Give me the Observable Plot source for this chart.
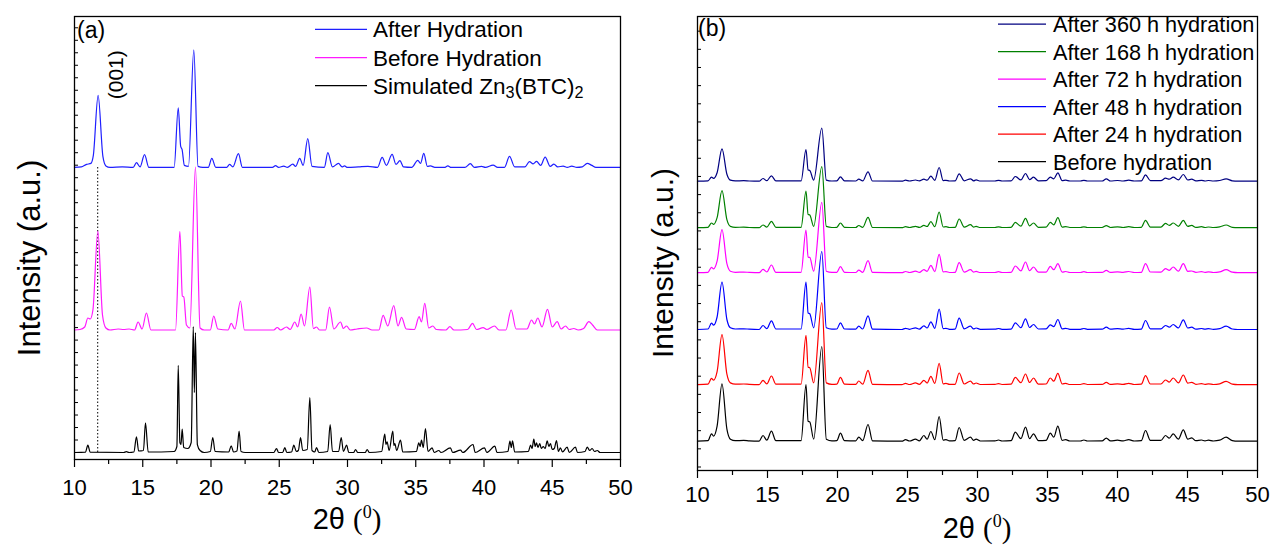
<!DOCTYPE html>
<html><head><meta charset="utf-8">
<script src="https://cdn.jsdelivr.net/npm/d3@7"></script>
<script src="https://cdn.jsdelivr.net/npm/@observablehq/plot@0.6"></script>
<style>
body{margin:0;background:#fff;}
#wrap{position:relative;width:1274px;height:548px;display:flex;}
#wrap svg{display:block;overflow:visible;}
</style></head><body><div id="wrap"></div>
<script>
// ---------- Panel (a): [2theta, intensity above its own baseline] ----------
const afterHydrationA = [[10,0],[10.5,0.5],[10.88,3],[11.2,4],[11.38,12],[11.73,72],[12.08,11],[12.3,1.5],[12.6,0],[13.5,0.5],[14.3,0],[14.54,4.7],[14.8,0.5],[15.13,12.7],[15.45,0],[17.3,0],[17.6,59.7],[17.78,21],[17.88,18],[18.05,2],[18.35,1],[18.74,117.7],[19.05,1],[19.4,0],[19.8,0],[20.06,9],[20.35,0],[21.15,0],[21.36,3],[21.6,0.5],[22.01,13.7],[22.3,0],[24.5,0],[24.73,1.7],[24.95,0],[25.33,1.2],[25.6,0],[25.99,3.3],[26.2,1],[26.5,9],[26.75,2],[27.09,28.7],[27.4,1],[28.3,0],[28.56,14.7],[28.9,0.5],[29.34,4],[29.6,0.5],[29.78,1.5],[30.0,0],[30.8,0.5],[31.5,1],[32.2,0],[32.54,10],[32.85,2],[33.27,13],[33.55,3],[33.84,6.7],[34.1,0.5],[34.7,0],[35.15,7],[35.35,4],[35.59,14],[35.85,1],[36.08,1.5],[36.4,0],[37.1,0],[37.35,1.5],[37.6,0],[38.6,0],[39.0,3.7],[39.3,0],[39.82,1],[40.1,0],[40.67,2.3],[41.0,0],[41.5,0],[41.87,11],[42.25,0.5],[43.0,0.5],[43.33,5.7],[43.6,3.5],[43.85,6],[44.15,2],[44.48,10.3],[44.85,1],[45.12,3.3],[45.4,0.5],[45.8,1.3],[46.1,0],[46.43,1.2],[46.8,0],[47.2,0.5],[47.56,4],[47.9,2],[48.2,0],[50,0]];

const beforeHydrationA = [[10,0],[10.4,0.5],[10.75,3],[10.98,12],[11.15,11],[11.35,20],[11.71,99],[12.05,15],[12.3,2],[12.6,0],[13.2,1],[13.6,0.5],[14.0,1],[14.4,0],[14.66,8],[14.95,1],[15.27,17],[15.6,0],[17.4,0],[17.72,98.7],[17.9,34],[18.01,33],[18.2,5],[18.45,2],[18.86,163],[19.2,2],[19.5,0],[19.95,0],[20.2,14],[20.5,1],[21.25,0],[21.48,6.7],[21.75,1],[22.16,29],[22.45,0],[24.6,0],[24.85,2.5],[25.1,0],[25.53,3],[25.8,0.5],[26.14,8],[26.35,3],[26.6,16],[26.85,4],[27.24,43],[27.5,1.5],[27.73,3],[27.95,0],[28.4,0],[28.68,23],[29.0,1],[29.49,8],[29.7,1.5],[29.93,4],[30.2,0],[30.7,1],[31.4,2],[31.8,0],[32.3,0],[32.61,14.7],[32.95,4],[33.39,24.3],[33.7,4],[33.96,12.7],[34.3,1],[34.9,0.5],[35.25,13.3],[35.42,8],[35.66,26.7],[35.95,2],[36.25,4],[36.5,0.5],[37.2,0],[37.5,3.3],[37.8,0],[38.8,0.5],[39.16,6.7],[39.45,0.5],[39.94,2.3],[40.2,0.5],[40.77,4],[41.1,0],[41.6,0],[41.99,20],[42.35,1],[43.15,1],[43.48,10],[43.7,6],[43.94,12],[44.25,3],[44.65,20.7],[45.0,3],[45.36,8.3],[45.65,1],[45.97,4],[46.25,0.5],[46.58,1.5],[46.9,0],[47.3,1.5],[47.68,8.3],[47.95,5],[48.3,0],[50,0]];

const simulatedA = [[10,0],[10.8,0.3],[10.98,7.3],[11.15,0.3],[13.6,0],[13.8,0.8],[14.0,0],[14.35,0.5],[14.54,15.7],[14.7,1.5],[15.05,2],[15.2,29.7],[15.4,0.5],[17.3,1],[17.5,6],[17.6,87.3],[17.72,10],[17.8,8],[17.89,23.3],[18.0,5],[18.3,4],[18.55,10],[18.7,126],[18.78,60],[18.86,120],[19.0,8],[19.2,2],[19.5,0],[19.95,1],[20.13,15],[20.3,1],[21.3,0.5],[21.48,6.7],[21.65,0.5],[21.9,1.5],[22.06,21.3],[22.2,1],[22.5,0],[24.6,0],[24.8,4],[24.95,0],[25.25,0],[25.41,5],[25.55,0],[25.9,0.5],[26.07,7.3],[26.25,1],[26.4,2],[26.56,15],[26.72,2],[27.05,3],[27.24,55],[27.4,2],[27.6,0.5],[27.73,5],[27.9,0],[28.55,1],[28.73,28],[28.9,1],[29.35,1],[29.54,15],[29.7,1],[29.93,7.3],[30.1,0],[30.45,0],[30.59,3],[30.75,0],[31.3,0],[31.44,3],[31.6,0],[32.5,1],[32.73,18.3],[32.82,8],[32.9,10.7],[33.05,2],[33.32,21.3],[33.4,7],[33.47,9],[33.6,2],[33.88,12.3],[34.05,0.5],[35.05,1],[35.22,9.7],[35.32,6],[35.42,12.3],[35.55,5],[35.71,24],[35.9,1],[36.2,4.7],[36.35,0],[36.69,2],[36.85,0],[37.54,4.7],[37.7,0],[38.28,2.3],[38.45,0],[39.2,8],[39.35,0],[40.04,4.7],[40.2,0],[40.8,6.3],[40.95,0],[41.75,1],[41.9,11.3],[42.0,5],[42.09,11.7],[42.25,0.5],[43.25,1],[43.41,7.3],[43.52,4],[43.65,13.3],[43.75,6],[43.85,9.7],[43.95,5],[44.09,9],[44.2,4],[44.34,6],[44.48,4],[44.63,11.7],[44.75,6],[44.87,9],[45.0,3],[45.15,4],[45.31,12],[45.45,1],[45.6,4.7],[45.75,0.5],[46.09,5.3],[46.25,0],[46.7,5.3],[46.85,0],[47.4,1],[47.56,5.3],[47.75,2],[47.92,4],[48.1,1],[48.3,2],[48.5,0],[50,0]];

const seriesNamesA = ["After Hydration", "Before Hydration", "Simulated Zn3(BTC)2"];
const seriesColorsA = ["#1f1fff", "#ff1aff", "#000000"];
const baselinesA = [292.3, 129.6, 7];
const peak001 = 11.7;

// ---------- Panel (b): shared 2theta grid, intensities above each baseline ----------
const xB = [10,10.75,11.0,11.15,11.4,11.75,12.1,12.35,12.7,13.3,13.7,14.4,14.68,14.95,15.28,15.6,
  17.4,17.75,17.9,18.02,18.3,18.88,19.2,19.6,19.95,20.21,20.5,21.3,21.52,21.8,22.18,22.5,
  24.6,24.86,25.15,25.57,25.85,26.17,26.4,26.67,26.95,27.26,27.55,27.75,28.0,28.4,28.69,29.05,29.5,29.72,29.9,30.2,31.25,31.5,31.75,
  32.4,32.7,33.1,33.43,33.72,34.0,34.35,34.9,35.2,35.45,35.74,36.05,36.3,36.6,37.35,37.6,37.85,
  38.9,39.2,39.5,40.0,40.4,40.8,41.2,41.7,42.0,42.35,43.1,43.43,43.7,43.98,44.35,44.7,45.02,45.3,45.6,46.0,46.25,46.5,46.85,47.3,47.76,48.2,48.6,50];
const beforeB = [0,0.5,7.3,5,15,57.3,12,2,0.5,0.8,0.3,0,5.7,1,10,0.5,
  0.5,56.7,20,19.3,2,94.7,2,0.3,0.5,8,0.5,0.3,4,0.6,16.7,0.3,
  0,1.5,0.2,2,0.4,5.7,2,9.7,1.5,24.7,1,1.5,0.3,0.5,13.7,0.8,4,0.8,2,0.2,0.3,1.2,0.2,
  0.5,9,2.5,14,2.5,7.3,0.6,0.8,8,4,15,0.8,1.5,0.2,0.2,1.2,0.2,
  0.3,3,0.3,1,0.3,1.5,0.2,0.5,10.7,0.8,0.8,5.7,3,7.3,2,11.3,2,3.3,0.5,1.2,0.3,1,0.2,1,4,0.6,0,0];
const h24B = [0,0.5,6.3,4.5,13,50,10.5,1.8,0.5,0.7,0.3,0,4.3,0.8,8.7,0.5,
  0.5,49.3,17.5,17,1.8,82,1.8,0.3,0.5,7.3,0.5,0.3,3.7,0.5,14.3,0.3,
  0,1.3,0.2,1.8,0.4,4.3,1.7,8.3,1.3,21.3,0.9,1.3,0.3,0.4,11.7,0.7,3.5,0.7,1.7,0.2,0.3,1.1,0.2,
  0.5,7.3,2,10.7,2.2,6.7,0.5,0.7,6.7,3.5,11.3,0.7,1.3,0.2,0.2,1.1,0.2,
  0.3,2.3,0.3,0.9,0.3,1.3,0.2,0.5,9,0.7,0.7,4.7,2.6,6.7,1.8,9.7,1.6,2.3,0.4,1,0.3,0.8,0.2,0.9,3.3,0.5,0,0];
const h48B = [0,0.5,6.3,4.3,12.5,47.3,10,1.7,0.5,0.7,0.3,0,4,0.8,8.7,0.5,
  0.5,47.3,16.5,15.7,1.7,78,1.7,0.3,0.5,6.7,0.5,0.3,3.3,0.5,13.7,0.3,
  0,1.2,0.2,1.7,0.3,3.7,1.5,7.7,1.2,20.3,0.8,1.2,0.2,0.4,11.3,0.6,3.3,0.6,1.5,0.2,0.3,1,0.2,
  0.4,6.7,1.8,10.7,2,5,0.5,0.6,4.7,2.8,10,0.6,1.2,0.2,0.2,1,0.2,
  0.3,2.3,0.3,0.9,0.3,1.2,0.2,0.4,9,0.7,0.6,4,2.3,5,1.6,9.7,1.5,2.3,0.4,1,0.3,0.8,0.2,0.9,3.3,0.5,0,0];
const h72B = [0,0.4,5.3,3.8,11.5,43,9,1.5,0.4,0.6,0.3,0,3.3,0.7,7.7,0.4,
  0.4,42.7,15.5,15.3,1.5,70.3,1.5,0.3,0.4,6,0.4,0.2,2.5,0.4,12,0.3,
  0,1.2,0.2,1.5,0.3,3,1.4,7.3,1.1,18.3,0.8,1.1,0.2,0.4,10,0.6,3,0.6,1.3,0.2,0.2,1,0.2,
  0.4,6.7,1.8,10.7,2,5.7,0.5,0.6,6.3,3,9,0.6,1.2,0.2,0.2,1,0.2,
  0.3,2.3,0.3,0.8,0.3,1.2,0.2,0.4,9,0.7,0.6,4,2.3,5.7,1.6,9,1.4,1.7,0.4,1,0.3,0.8,0.2,0.8,3,0.5,0,0];
const h168B = [0,0.4,4.7,3.3,10,37,8,1.3,0.4,0.5,0.2,0,2.7,0.6,6.3,0.4,
  0.4,36.7,13.3,12.7,1.3,61,1.3,0.2,0.4,4.7,0.4,0.2,2.2,0.4,10.3,0.2,
  0,1,0.2,1.3,0.3,2.3,1.2,6,1,15.7,0.7,1,0.2,0.3,8.7,0.5,3,0.5,1.3,0.2,0.2,0.9,0.2,
  0.4,5.3,1.5,9.3,1.8,4.7,0.4,0.5,5.3,2.8,10,0.5,1.1,0.2,0.2,0.9,0.2,
  0.2,2,0.2,0.8,0.2,1,0.2,0.4,7.3,0.6,0.6,4.3,2.3,4.7,1.4,7.3,1.3,2.3,0.3,1,0.2,0.7,0.2,0.8,2.7,0.4,0,0];
const h360B = [0,0.3,4,2.8,8.5,32.4,7,1.1,0.3,0.5,0.2,0,2.7,0.5,5.4,0.3,
  0.3,31.7,11.3,10.7,1.1,53,1.1,0.2,0.3,4.4,0.3,0.2,2,0.3,9.4,0.2,
  0,1,0.2,1.2,0.3,2,1,5,0.9,13.7,0.6,0.9,0.2,0.3,7.4,0.4,2.4,0.4,1.3,0.2,0.2,0.8,0.2,
  0.3,4.7,1.3,7.7,1.5,4,0.4,0.5,4,2.4,8.3,0.5,1,0.2,0.2,0.8,0.2,
  0.2,2.3,0.2,0.7,0.2,1,0.2,0.3,6.3,0.5,0.5,3,2,4,1.3,6.7,1.2,2,0.3,0.8,0.2,0.7,0.2,0.7,2.3,0.4,0,0];

const seriesNamesB = ["After 360 h hydration","After 168 h hydration","After 72 h hydration","After 48 h hydration","After 24 h hydration","Before hydration"];
const seriesB = [h360B, h168B, h72B, h48B, h24B, beforeB];
const seriesColorsB = ["#000080","#008000","#ff00ff","#0000ff","#ff0000","#000000"];
const baselinesB = [289.3, 242.8, 197.8, 141, 85.8, 29.3];

const majorTicks = [10,15,20,25,30,35,40,45,50];
const minorTicks = [12.5,17.5,22.5,27.5,32.5,37.5,42.5,47.5];
const yTicksA = d3.range(7, 440, 12.5);
const yTicksB = d3.range(3.5, 450, 18.16);

// ---------- drawing ----------
const FONT = '"Liberation Sans", Arial, Helvetica, sans-serif';
const wrap = document.getElementById("wrap");

function lineMarks(traces) {
  return traces.map(t => Plot.line(t.rows, {x: "x", y: "y", stroke: t.color, strokeWidth: 1.2, curve: "monotone-x"}));
}

function axes(plotW, ticksY, pad) {
  return [
    Plot.tickY(ticksY, {y: d => d, stroke: "#000", strokeWidth: 1, insetRight: plotW - 4}),
    Plot.axisX(majorTicks, {tickSize: 8, tickPadding: pad, fontSize: 22, label: null, tickFormat: d => String(d), strokeWidth: 1.2}),
    Plot.axisX(minorTicks, {tickSize: 5, tickFormat: () => "", label: null, strokeWidth: 1.2}),
    Plot.axisY([], {label: null}),
    Plot.frame({stroke: "#000", strokeWidth: 1.3})
  ];
}

// Panel (a)
const rowsA = [afterHydrationA, beforeHydrationA, simulatedA].map((pts, i) => ({
  color: seriesColorsA[i], rows: pts.map(([x, h]) => ({x, y: baselinesA[i] + h}))
}));
const wA = 640, mLA = 74, mRA = 20;
const svgA = Plot.plot({
  width: wA, height: 548, marginLeft: mLA, marginRight: mRA, marginTop: 16, marginBottom: 89,
  x: {domain: [10, 50]}, y: {domain: [0, 443.3]},
  style: {fontFamily: FONT, fontSize: "22px", color: "#000", background: "transparent"},
  marks: [
    Plot.ruleX([peak001], {y1: baselinesA[2], y2: baselinesA[0], stroke: "#000", strokeDasharray: "1.5,2", strokeWidth: 1}),
    ...lineMarks(rowsA),
    ...axes(wA - mLA - mRA, yTicksA, 12),
    Plot.text(["(001)"], {x: 13.08, y: 385, rotate: -90, fontSize: 21, fill: "#000"})
  ]});
wrap.appendChild(svgA);

// Panel (b)
const rowsB = seriesB.map((vals, i) => ({
  color: seriesColorsB[i], rows: vals.map((h, j) => ({x: xB[j], y: baselinesB[i] + h}))
}));
const wB = 634, mLB = 57, mRB = 17;
const svgB = Plot.plot({
  width: wB, height: 548, marginLeft: mLB, marginRight: mRB, marginTop: 16, marginBottom: 78,
  x: {domain: [10, 50]}, y: {domain: [0, 454]},
  style: {fontFamily: FONT, fontSize: "22px", color: "#000", background: "transparent"},
  marks: [...lineMarks(rowsB), ...axes(wB - mLB - mRB, yTicksB, 8)]});
wrap.appendChild(svgB);

// ---------- annotations: legends, titles ----------
function addText(svg, x, y, parts, opts = {}) {
  const size = opts.size || 22;
  const t = d3.select(svg).append("text").attr("x", x).attr("y", y)
    .attr("font-family", opts.family || FONT).attr("font-size", size).attr("fill", "#000")
    .attr("text-anchor", opts.anchor || "start");
  if (opts.rotate) t.attr("transform", `rotate(${opts.rotate},${x},${y})`);
  parts.forEach(p => {
    const s = t.append("tspan").text(p.t);
    if (p.sub) s.attr("font-size", size * 0.72).attr("baseline-shift", "-28%");
    if (p.sup) s.attr("font-size", size * 0.62).attr("baseline-shift", "60%");
    if (p.family) s.attr("font-family", p.family);
  });
  return t;
}
function legend(svg, x1, x2, xt, ys, names, colors, size) {
  names.forEach((n, i) => {
    d3.select(svg).append("line").attr("x1", x1).attr("x2", x2).attr("y1", ys[i]).attr("y2", ys[i])
      .attr("stroke", colors[i]).attr("stroke-width", 1.2);
    const parts = n === "Simulated Zn3(BTC)2"
      ? [{t: "Simulated Zn"}, {t: "3", sub: true}, {t: "(BTC)"}, {t: "2", sub: true}]
      : [{t: n}];
    addText(svg, xt, ys[i] + size * 0.36, parts, {size});
  });
}
legend(svgA, 315, 367, 373, [29.3, 57.7, 85.7], seriesNamesA, seriesColorsA, 22.5);
legend(svgB, 358, 406, 413, [24.2, 51.7, 79.2, 106.7, 134.2, 161.7], seriesNamesB, seriesColorsB, 21.7);

addText(svgA, 77, 38, [{t: "(a)"}], {size: 23});
addText(svgB, 58, 36, [{t: "(b)"}], {size: 23});

const serif = '"Liberation Serif", "Times New Roman", serif';
const titleParts = [{t: "2θ "}, {t: "(", family: serif}, {t: "0", sup: true, family: serif}, {t: ")", family: serif}];
addText(svgA, 347, 529, titleParts, {size: 29, anchor: "middle"});
addText(svgB, 337, 538, titleParts, {size: 29, anchor: "middle"});

addText(svgA, 40, 258, [{t: "Intensity (a.u.)"}], {size: 31, anchor: "middle", rotate: -90});
addText(svgB, 33, 263, [{t: "Intensity (a.u.)"}], {size: 30, anchor: "middle", rotate: -90});
</script></body></html>
